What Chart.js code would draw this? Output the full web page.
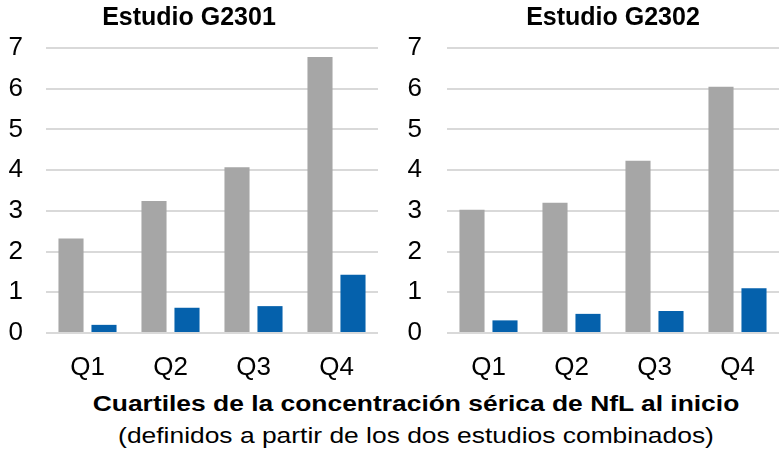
<!DOCTYPE html>
<html>
<head>
<meta charset="utf-8">
<script src="https://cdn.jsdelivr.net/npm/chart.js@4"></script>
<style>
  body { margin: 0; background: #fff; width: 779px; height: 461px; position: relative; overflow: hidden; font-family: "Liberation Sans", Arial, sans-serif; }
  #wrapA { position: absolute; left: 0; top: 0; width: 400px; height: 385px; }
  #wrapB { position: absolute; left: 389px; top: 0; width: 390px; height: 385px; }
  .axisTitle { position: absolute; left: 0; width: 832px; text-align: center; color: #000; transform: scaleX(1.2); transform-origin: 416px 0; white-space: nowrap; }
  #xt1 { top: 391px; font-size: 22px; font-weight: bold; }
  #xt2 { top: 423px; font-size: 22px; }
</style>
</head>
<body>
<div id="wrapA"><canvas id="g2301"></canvas></div>
<div id="wrapB"><canvas id="g2302"></canvas></div>
<div class="axisTitle" id="xt1">Cuartiles de la concentración sérica de NfL al inicio</div>
<div class="axisTitle" id="xt2">(definidos a partir de los dos estudios combinados)</div>
<script>
// categorias y valores
const cuartiles = ["Q1", "Q2", "Q3", "Q4"];
const g2301Gris = [2.32, 3.24, 4.07, 6.78];
const g2301Azul = [0.2, 0.62, 0.66, 1.43];
const g2302Gris = [3.03, 3.2, 4.23, 6.05];
const g2302Azul = [0.31, 0.47, 0.54, 1.1];

const gris = "#a6a6a6";
const azul = "#0561ac";
const fuente = "'Liberation Sans', Arial, sans-serif";

function createPanel(id, titulo, dataGris, dataAzul, yWidth, yPad, padRight, titleFull) {
  new Chart(document.getElementById(id), {
    type: "bar",
    data: {
      labels: cuartiles,
      datasets: [
        { label: "gris", data: dataGris, backgroundColor: gris, categoryPercentage: 0.795, barPercentage: 0.76 },
        { label: "azul", data: dataAzul, backgroundColor: azul, categoryPercentage: 0.795, barPercentage: 0.76 },
      ],
    },
    options: {
      responsive: true,
      maintainAspectRatio: false,
      animation: false,
      layout: { padding: { left: 0, right: padRight, top: 0, bottom: 0 } },
      plugins: {
        legend: { display: false },
        tooltip: { enabled: false },
        title: {
          display: true,
          text: titulo,
          fullSize: titleFull,
          color: "#000",
          font: { family: fuente, size: 25, weight: "bold" },
          padding: { top: 3, bottom: 15 },
        },
      },
      scales: {
        x: {
          grid: { display: false },
          border: { display: false },
          ticks: { color: "#000", padding: 11, font: { family: fuente, size: 26 } },
          afterFit: (scale) => { scale.height = 52; },
        },
        y: {
          min: 0,
          max: 7,
          ticks: { stepSize: 1, color: "#000", padding: yPad, font: { family: fuente, size: 26 } },
          grid: { color: "#d9d9d9", lineWidth: 2, drawTicks: false },
          border: { display: false },
          afterFit: (scale) => { scale.width = yWidth; },
        },
      },
    },
  });
}

createPanel("g2301", "Estudio G2301", g2301Gris, g2301Azul, 46, 23, 22, true);
createPanel("g2302", "Estudio G2302", g2302Gris, g2302Azul, 58, 25, 0, false);
</script>
</body>
</html>
